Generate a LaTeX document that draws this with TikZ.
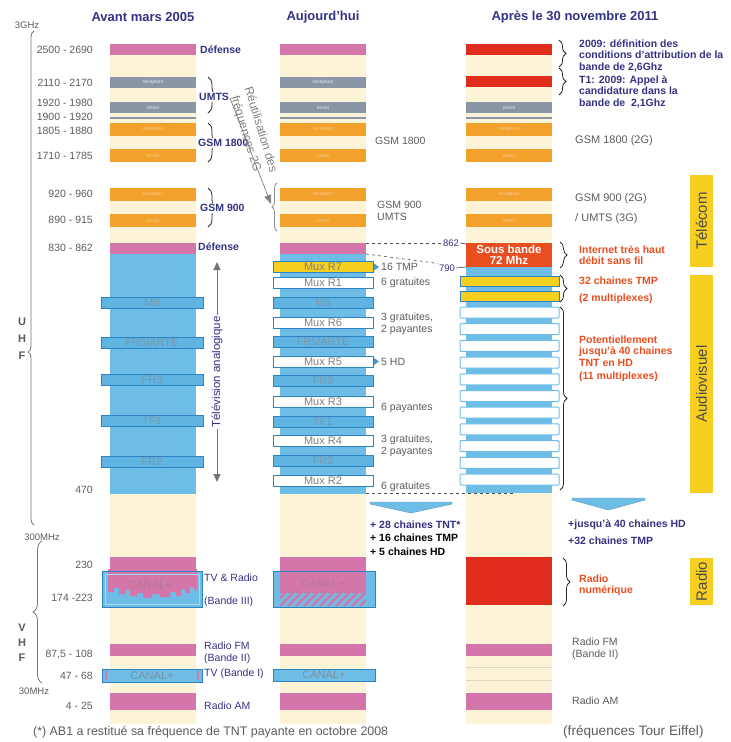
\documentclass[tikz,border=0pt]{standalone}
\usepackage{fontspec}
\setmainfont{Liberation Sans}
\usetikzlibrary{arrows.meta,positioning,calc,decorations.pathreplacing}

\definecolor{creme}{RGB}{253,244,216}
\definecolor{rose}{RGB}{213,118,170}
\definecolor{grisband}{RGB}{138,150,166}
\definecolor{orangeband}{RGB}{242,162,44}
\definecolor{bleu}{RGB}{110,189,231}
\definecolor{bleubox}{RGB}{96,180,226}
\definecolor{bleufonce}{RGB}{44,132,194}
\definecolor{rouge}{RGB}{224,44,28}
\definecolor{rougeorange}{RGB}{233,78,32}
\definecolor{jaune}{RGB}{246,207,32}
\definecolor{marine}{RGB}{52,50,130}
\definecolor{texte}{RGB}{92,92,92}

\begin{document}
\begin{tikzpicture}[x=1pt,y=-1pt,
    titre/.style={font=\fontsize{13}{15}\selectfont\bfseries, text=marine},
    freq/.style={anchor=east, inner sep=0pt, font=\fontsize{10.5}{12}\selectfont, text=texte},
    lab/.style={anchor=west, inner sep=0pt, font=\fontsize{10.5}{12}\selectfont\bfseries, text=marine},
    labfin/.style={anchor=west, inner sep=0pt, font=\fontsize{10.5}{12}\selectfont, text=marine},
    note/.style={anchor=west, inner sep=0pt, align=left, font=\fontsize{10.5}{11.5}\selectfont\bfseries},
    grislab/.style={anchor=west, inner sep=0pt, align=left, font=\fontsize{10.5}{12}\selectfont, text=texte},
    chaine/.style={draw=bleufonce, fill=bleubox, line width=0.8pt, minimum width=100pt, minimum height=11pt, inner sep=0pt, font=\fontsize{11}{11}\selectfont, text=gray!60!bleu},
    mux/.style={chaine, fill=white, text=gray},
    bandtxt/.style={inner sep=0pt, font=\fontsize{5}{5}\selectfont},
    accolade/.style={decorate, decoration={brace, amplitude=#1}, line width=0.8pt, black!85},
    accolade/.default=7pt,
    cote/.style={fill=jaune, rotate=90, minimum height=23pt, inner sep=0pt, font=\fontsize{15}{17}\selectfont, text=black!70},
    tirets/.style={dashed, black!70, line width=0.6pt},
    chevron/.style={fill=bleu, draw=bleu!80!black, line width=0.4pt},
    ]
  \useasboundingbox (0,0) rectangle (731,742);

  % Titres des colonnes
  \node[titre] (tA) at (143,17) {Avant mars 2005};
  \node[titre] (tB) at (323,17) {Aujourd'hui};
  \node[titre] (tC) at (575,17) {Après le 30 novembre 2011};

  % Fond commun des trois colonnes
  \foreach \xg in {110,280,466} {
    \fill[creme] (\xg,44) rectangle ++(86,680);
    \fill[white] (\xg,162) rectangle ++(86,26);
    \foreach \yb/\quoi in {123/réception,149/envoi,188/réception,214/envoi} {
      \fill[orangeband] (\xg,\yb) rectangle ++(86,12.5);
      \node[bandtxt, text=orangeband!55!white] at (\xg+43,\yb+6.25) {\quoi};
    }
    \fill[grisband] (\xg,102) rectangle ++(86,11);
    \node[bandtxt, text=white!80!grisband] at (\xg+43,107.5) {envoi};
    \fill[grisband] (\xg,116.5) rectangle ++(86,2);
    \fill[rose] (\xg,643.5) rectangle ++(86,12.5);
    \fill[rose] (\xg,693) rectangle ++(86,16.5);
  }

  % Colonnes 2005 et aujourd'hui
  \foreach \xg in {110,280} {
    \fill[rose] (\xg,44) rectangle ++(86,11);
    \fill[grisband] (\xg,77) rectangle ++(86,10.5);
    \node[bandtxt, text=white!80!grisband] at (\xg+43,82) {réception};
    \fill[rose] (\xg,243) rectangle ++(86,11);
    \fill[bleu] (\xg,254) rectangle ++(86,240);
    \fill[rose] (\xg,557) rectangle ++(86,12);
  }

  % Colonne 2011
  \fill[rouge] (466,44) rectangle ++(86,11);
  \fill[rouge] (466,76) rectangle ++(86,11);
  \fill[bleu] (466,267) rectangle ++(86,226);
  \node[fill=rougeorange, minimum width=86pt, minimum height=24pt, inner sep=0pt, align=center,
        text=white, font=\fontsize{11.5}{11}\selectfont\bfseries] (sousbande) at (509,255) {Sous bande\\72 Mhz};
  \fill[rouge] (466,557) rectangle ++(86,48);
  \draw[creme!75!gray, very thin] (466,667) -- ++(86,0) (466,680) -- ++(86,0);

  % Chaines analogiques (2005)
  \foreach \y/\nom [count=\i] in {303/M6, 342.5/{FR5/ARTE}, 380/FR3, 421/TF1, 461.5/FR2}
    \node[chaine, minimum width=102pt] (chA\i) at (152,\y) {\nom};

  % Multiplex et chaines (aujourd'hui)
  \node[chaine, fill=jaune, text=gray] (muxB0) at (323,267) {Mux R7};
  \foreach \y/\nom [count=\i] in {283/Mux R1, 322.5/Mux R6, 361.5/Mux R5, 401.5/Mux R3, 441/Mux R4, 481/Mux R2}
    \node[mux] (muxB\i) at (323,\y) {\nom};
  \foreach \y/\nom [count=\i] in {303/M6, 342/{FR5/ARTE}, 381/FR3, 421.5/TF1, 461/FR2}
    \node[chaine] (chB\i) at (323,\y) {\nom};

  % Multiplex 2011
  \foreach \y [count=\i] in {281,296}
    \node[chaine, fill=jaune, minimum width=99pt, minimum height=10pt] (tmpC\i) at (509.5,\y) {};
  \foreach \i in {0,...,10}
    \node[mux, draw=bleu, line width=1pt, rounded corners=1pt, minimum width=99pt] (hdC\i) at (509.5,312.5+16.7*\i) {};

  % CANAL+ bande III (2005)
  \fill[bleu] (102,571) rectangle (202,607);
  \fill[rose] (108,569) -- (197,569) -- (197,590) -- (194,590) -- (194,587) -- (190,587) -- (190,593)
    -- (185,593) -- (185,589) -- (181,589) -- (181,596) -- (176,596) -- (176,592) -- (170,592)
    -- (170,597) -- (160,597) -- (160,594) -- (152,594) -- (152,598) -- (143,598) -- (143,593)
    -- (137,593) -- (137,596) -- (130,596) -- (130,590) -- (125,590) -- (125,594) -- (119,594)
    -- (119,588) -- (114,588) -- (114,592) -- (108,592) -- cycle;
  \draw[bleu!60!white, line width=0.5pt] (105,574) rectangle (199,604);
  \draw[bleufonce, line width=1pt] (102,571) rectangle (202,607);
  \node[text=rose!55!gray, font=\fontsize{11}{11}\selectfont] (canalA) at (150,585) {CANAL+};

  % CANAL+ bande III (aujourd'hui)
  \fill[bleu] (273,571) rectangle (375,607);
  \fill[rose] (280,569) rectangle (366,593);
  \begin{scope}
    \clip (280,593) rectangle (366,606);
    \fill[rose] (280,593) rectangle (366,606);
    \foreach \k in {0,...,12}
      \fill[bleu] (266+8*\k,606) -- ++(4,0) -- ++(13,-13) -- ++(-4,0) -- cycle;
  \end{scope}
  \draw[bleufonce, line width=1pt] (273,571) rectangle (375,607);
  \node[text=rose!55!gray, font=\fontsize{11}{11}\selectfont] (canalB) at (323,584) {CANAL+};

  % CANAL+ bande I
  \node[chaine, fill=bleu, minimum width=100pt, minimum height=13pt, text=gray!70!bleu] (canalIA) at (152,675.5) {CANAL+};
  \fill[rose] (105,671) rectangle ++(2,9) (197,671) rectangle ++(2,9);
  \node[chaine, fill=bleu, minimum width=102pt, minimum height=12pt, text=gray!70!bleu] (canalIB) at (324,675) {CANAL+};

  % Echelle des frequences
  \node[inner sep=0pt, text=texte, font=\fontsize{9.5}{11}\selectfont] (ghz) at (27,25) {3GHz};
  \draw[decorate, decoration={brace, amplitude=6pt, aspect=0.35}, black!55, line width=0.8pt] (34,525) -- (34,31);
  \node[inner sep=0pt, text=texte, font=\fontsize{9.5}{11}\selectfont] (mhz300) at (42,537) {300MHz};
  \draw[decorate, decoration={brace, amplitude=9pt}, black!55, line width=0.8pt] (42,683) -- (42,541);
  \node[inner sep=0pt, text=texte, font=\fontsize{9.5}{11}\selectfont] (mhz30) at (34,691) {30MHz};
  \foreach \y/\lettre in {322/U,339/H,356/F,628/V,643/H,658/F}
    \node[inner sep=0pt, text=texte, font=\fontsize{11}{12}\selectfont\bfseries] at (22,\y) {\lettre};

  \foreach \y/\f in {50/2500 - 2690, 83/2110 - 2170, 103/1920 - 1980, 117/1900 - 1920, 131/1805 - 1880,
      156/1710 - 1785, 194/920 - 960, 220/890 - 915, 248/830 - 862, 490/470, 565/230,
      598/174 -223, 654/{87,5 - 108}, 676/47 - 68, 706/4 - 25}
    \node[freq] at (93,\y) {\f};

  % Etiquettes 2005
  \node[lab] (defA) at (200,50) {Défense};
  \draw[accolade=8pt] (208,77) -- (208,113);
  \node[lab, fill=white, inner sep=1pt] (umts) at (198,97) {UMTS};
  \draw[accolade=8pt] (208,123) -- (208,162);
  \node[lab, fill=white, inner sep=1pt] (gsmA1) at (197,143) {GSM 1800};
  \draw[accolade=8pt] (208,188) -- (208,227);
  \node[lab, fill=white, inner sep=1pt] (gsmA2) at (199,208) {GSM 900};
  \node[lab] (defA2) at (198,247) {Défense};
  \node[labfin] (tvradio) at (204,578) {TV \& Radio};
  \node[labfin] (bande3) at (204,602) {(Bande III)};
  \node[labfin, align=left] (fm) at (204,653) {Radio FM\\(Bande II)};
  \node[labfin] (bande1) at (204,674) {TV (Bande I)};
  \node[labfin] (am) at (204,706) {Radio AM};

  % Television analogique
  \coordinate (tvH) at (217,262);
  \coordinate (tvB) at (217,482);
  \draw[black!55, line width=1pt, {Triangle[length=8pt,width=7pt]}-{Triangle[length=8pt,width=7pt]}] (tvH) -- (tvB);
  \node[fill=white, rotate=90, inner sep=1pt, text=marine, font=\fontsize{11.5}{13}\selectfont] (tvan) at (217,372) {Télévision analogique};

  % Reutilisation des frequences 2G
  \coordinate (reuD) at (230,98);
  \coordinate (reuF) at (271,204);
  \draw[black!50, line width=0.7pt, -{Triangle[length=9pt,width=7pt]}] (reuD) -- (reuF);
  \node[rotate=-73, align=center, inner sep=0pt, text=black!50, font=\fontsize{12}{15.5}\selectfont] (reut) at (253,132) {Réutilisation des\\fréquences 2G};
  \draw[accolade=5pt, black!45] (277,231) -- (277,183);

  % Etiquettes aujourd'hui
  \node[grislab] (gsmB1) at (375,141) {GSM 1800};
  \node[grislab, align=left] (gsmB2) at (377,211) {GSM 900\\UMTS};
  \foreach \y in {267,361.5}
    \fill[bleufonce!85] (374,\y-3.5) -- (379,\y) -- (374,\y+3.5) -- cycle;
  \node[grislab] (tmp16) at (381,267) {16 TMP};
  \node[grislab] (grat1) at (381,283) {6 gratuites};
  \node[grislab] (mix6) at (381,324) {3 gratuites,\\2 payantes};
  \node[grislab] (hd5) at (381,362) {5 HD};
  \node[grislab] (pay3) at (381,408) {6 payantes};
  \node[grislab] (mix4) at (381,446) {3 gratuites,\\2 payantes};
  \node[grislab] (grat2) at (381,487) {6 gratuites};

  % Limites de la sous-bande
  \coordinate (b862) at (366,243);
  \coordinate (b790) at (366,254);
  \coordinate (b470) at (366,493.5);
  \coordinate (c862) at (466,244);
  \coordinate (c790) at (466,267);
  \coordinate (c470) at (513,493.5);
  \node[inner sep=1pt, text=marine, font=\fontsize{9.5}{11}\selectfont] (n862) at (451,243) {862};
  \node[inner sep=1pt, text=marine, font=\fontsize{9.5}{11}\selectfont] (n790) at (447,268) {790};
  \draw[tirets] (b862) -- (n862.west);
  \draw[black!70, line width=0.6pt] (n862.east) -- (c862);
  \draw[tirets] (b790) -- (n790.north west);
  \draw[black!70, line width=0.6pt] (n790.east) -- (c790);
  \draw[tirets] (b470) -- (c470);

  % Bilan
  \fill[chevron] (370,502) -- (452,502) -- (452,504) -- (411,513) -- (370,504) -- cycle;
  \fill[chevron] (572,498) -- (645,498) -- (645,500) -- (608.5,510) -- (572,500) -- cycle;
  \node[lab] (tnt28) at (370,525) {+ 28 chaines TNT*};
  \node[lab, text=black] (tmp16b) at (370,538) {+ 16 chaines TMP};
  \node[lab, text=black] (hd5b) at (370,552) {+ 5 chaines HD};
  \node[lab] (hd40) at (568,525) {+jusqu'à 40 chaines HD};
  \node[lab] (tmp32) at (568,541) {+32 chaines TMP};

  % Etiquettes 2011
  \draw[accolade] (559,40) -- (559,67);
  \draw[accolade] (559,68) -- (559,95);
  \node[note, text=marine] (n26) at (579,55.5) {2009: définition des\\conditions d'attribution de la\\bande de 2,6Ghz};
  \node[note, text=marine] (n21) at (579,91.5) {T1: 2009: Appel à\\candidature dans la\\bande de\ \ 2,1Ghz};
  \node[grislab, font=\fontsize{11}{12}\selectfont] (gsmC1) at (575,141) {GSM 1800 (2G)};
  \node[grislab, font=\fontsize{11}{12}\selectfont] (gsmC2) at (575,199) {GSM 900 (2G)};
  \node[grislab, font=\fontsize{11}{12}\selectfont] (umtsC) at (575,219) {/ UMTS (3G)};
  \draw[accolade] (560,242) -- (560,268);
  \node[note, text=rougeorange] (internet) at (579,255) {Internet très haut\\débit sans fil};
  \draw[accolade] (560,275) -- (560,302);
  \node[note, text=rougeorange] (tmp32c) at (579,281) {32 chaines TMP};
  \node[note, text=rougeorange] (mux2) at (579,299) {(2 multiplexes)};
  \draw[accolade] (560,307) -- (560,490);
  \node[note, text=rougeorange] (pot) at (579,351) {Potentiellement\\jusqu'à 40 chaines\\TNT en HD};
  \node[note, text=rougeorange] (mux11) at (579,377) {(11 multiplexes)};
  \draw[accolade] (563,558) -- (563,606);
  \node[note, text=rougeorange] (radnum) at (579,585.5) {Radio\\numérique};
  \node[grislab, align=left] (fmC) at (572,649) {Radio FM\\(Bande II)};
  \node[grislab] (amC) at (572,701) {Radio AM};

  % Domaines
  \node[cote, minimum width=92pt] (telecom) at (701.5,221) {Télécom};
  \node[cote, minimum width=218pt] (audio) at (701.5,384) {Audiovisuel};
  \node[cote, minimum width=47pt] (radio) at (701.5,581.5) {Radio};

  % Notes de bas de page
  \node[anchor=west, inner sep=0pt, text=texte, font=\fontsize{12.4}{14}\selectfont] (foot) at (33,732) {(*) AB1 a restitué sa fréquence de TNT payante en octobre 2008};
  \node[anchor=west, inner sep=0pt, text=texte, font=\fontsize{13.6}{15}\selectfont] (eiffel) at (563,732) {(fréquences Tour Eiffel)};
\end{tikzpicture}
\end{document}
